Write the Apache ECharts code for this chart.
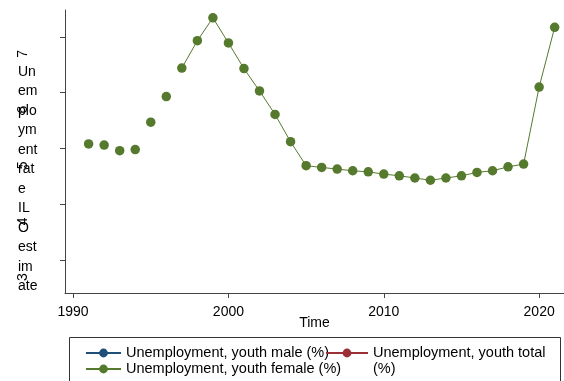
<!DOCTYPE html>
<html>
<head>
<meta charset="utf-8">
<script src="https://cdn.jsdelivr.net/npm/echarts@6/dist/echarts.min.js"></script>
<style>
  html, body { margin: 0; padding: 0; background: #fff; }
  #chart { width: 564px; height: 381px; }
</style>
</head>
<body>
<div id="chart"></div>
<script>
// data
const years = [1991, 1992, 1993, 1994, 1995, 1996, 1997, 1998, 1999, 2000,
  2001, 2002, 2003, 2004, 2005, 2006, 2007, 2008, 2009, 2010,
  2011, 2012, 2013, 2014, 2015, 2016, 2017, 2018, 2019, 2020, 2021];
const femaleValues = [5.08, 5.06, 4.96, 4.98, 5.47, 5.93, 6.44, 6.93, 7.34, 6.89,
  6.43, 6.03, 5.61, 5.12, 4.69, 4.66, 4.63, 4.60, 4.58, 4.54,
  4.51, 4.47, 4.43, 4.47, 4.51, 4.57, 4.60, 4.67, 4.72, 6.10, 7.17];
const maleValues = [];
const totalValues = [];
const xTicks = [1990, 2000, 2010, 2020];
const yTicks = [3, 4, 5, 6, 7];
// the line only joins points from this year on
const lineFrom = 1997;
// y title is wrapped into a narrow column in the original
const yTitleLines = ['Un', 'em', 'plo', 'ym', 'ent', 'rat', 'e', 'IL', 'O', 'est', 'im', 'ate'];

const font = 'Liberation Sans';
const green = '#55792d';
const names = {
  male: 'Unemployment, youth male (%)',
  total: 'Unemployment, youth total (%)',
  female: 'Unemployment, youth female (%)'
};

const pairs = years.map((y, i) => [y, femaleValues[i]]);

const chart = echarts.init(document.getElementById('chart'));
chart.setOption({
  animation: false,
  textStyle: { fontFamily: font },
  grid: { left: 65, right: 0, top: 10, bottom: 88 },
  xAxis: {
    type: 'value',
    min: 1989.48,
    max: 2021.6,
    name: 'Time',
    nameLocation: 'middle',
    nameGap: 23,
    nameMoveOverlap: false,
    nameTextStyle: { color: '#000', fontSize: 14, fontFamily: font },
    axisLine: { show: true, lineStyle: { color: '#444', width: 1 } },
    axisTick: { show: true, length: 5, customValues: xTicks, lineStyle: { color: '#444' } },
    axisLabel: {
      customValues: xTicks, color: '#000', fontSize: 14, margin: 12, fontFamily: font,
      formatter: v => String(v)
    },
    splitLine: { show: false }
  },
  yAxis: {
    type: 'value',
    min: 2.41,
    max: 7.48,
    axisLine: { show: true, lineStyle: { color: '#444', width: 1 } },
    axisTick: { show: true, length: 5, customValues: yTicks, lineStyle: { color: '#444' } },
    axisLabel: {
      customValues: yTicks, rotate: 90, color: '#000', fontSize: 14, margin: 35, fontFamily: font,
      padding: [0, 34, 0, 0]
    },
    splitLine: { show: false }
  },
  graphic: [
    {
      type: 'text',
      left: 18,
      top: 62,
      style: {
        text: yTitleLines.join('\n'),
        lineHeight: 19.5,
        fontSize: 14,
        fontFamily: font,
        fill: '#000'
      }
    },
    {
      type: 'rect',
      shape: { x: 69.5, y: 337.5, width: 491, height: 60 },
      style: { fill: 'none', stroke: '#333', lineWidth: 1 },
      silent: true
    }
  ],
  legend: [
    {
      orient: 'vertical',
      left: 85,
      top: 345,
      padding: 0,
      itemWidth: 35,
      itemHeight: 11,
      itemGap: 0,
      data: [names.male, names.female],
      textStyle: { color: '#000', fontSize: 14.5, lineHeight: 16, fontFamily: font }
    },
    {
      left: 325,
      top: 329,
      padding: 0,
      itemWidth: 42,
      itemHeight: 11,
      data: [names.total],
      // leading empty line keeps the icon level with the first text line
      formatter: name => '\n' + name,
      textStyle: {
        color: '#000', fontSize: 14.5, lineHeight: 16, fontFamily: font,
        width: 185, overflow: 'break'
      }
    }
  ],
  series: [
    {
      name: names.male,
      type: 'line',
      data: maleValues,
      color: '#1f4e79',
      symbol: 'circle',
      lineStyle: { width: 1 }
    },
    {
      name: names.total,
      type: 'line',
      data: totalValues,
      color: '#9b3036',
      symbol: 'circle',
      lineStyle: { width: 1 }
    },
    {
      name: names.female,
      type: 'line',
      data: pairs.filter(p => p[0] >= lineFrom),
      color: green,
      symbol: 'circle',
      symbolSize: 9.5,
      showSymbol: true,
      lineStyle: { width: 1, color: green },
      itemStyle: { color: green }
    },
    {
      name: names.female,
      type: 'scatter',
      data: pairs.filter(p => p[0] < lineFrom),
      symbolSize: 9.5,
      itemStyle: { color: green, opacity: 1 }
    }
  ]
});
</script>
</body>
</html>
